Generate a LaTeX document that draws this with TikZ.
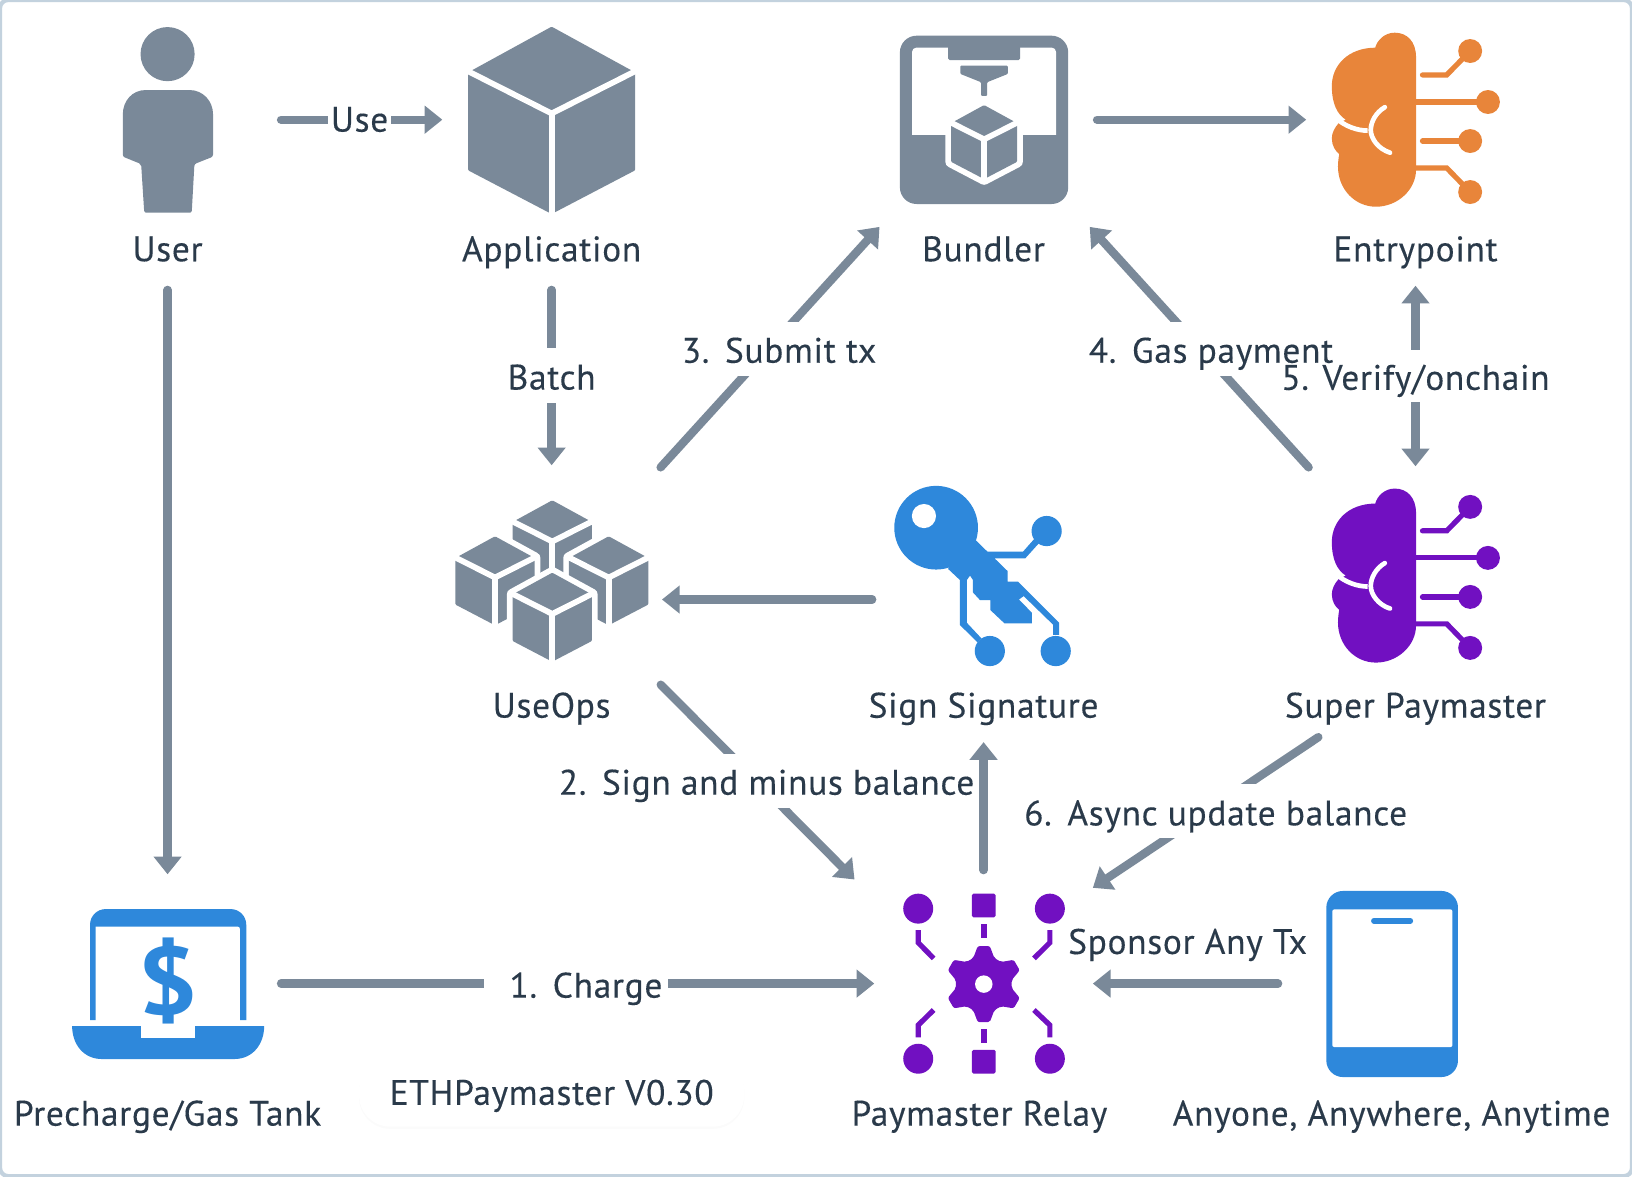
\documentclass[tikz,border=0pt]{standalone}
\usepackage{fontspec}
\setmainfont{PT Sans}
\newfontfamily\labfont{PT Sans}[LetterSpace=2,FakeBold=0.25]
\usetikzlibrary{arrows,arrows.meta,positioning,shadows}
\definecolor{iconclr}{HTML}{7A8999}
\definecolor{textclr}{HTML}{2A3A4A}
\definecolor{blueclr}{HTML}{2E88DB}
\definecolor{orangeclr}{HTML}{E8853A}
\definecolor{purpleclr}{HTML}{7110C1}
\definecolor{frameclr}{HTML}{C3D2DE}
\newcommand{\numgap}{\hspace{15pt}}
\tikzset{
	iconbox/.style={minimum width=210pt,minimum height=210pt,inner sep=0pt,outer sep=0pt},
	lab/.style={text=textclr,font=\fontsize{34}{36}\labfont,inner sep=0pt,outer sep=0pt,minimum height=70pt,text height=28pt,text depth=5pt},
	edgelab/.style={lab,fill=white,minimum height=52pt,inner xsep=3pt,text height=30pt,text depth=3pt},
	gapbox/.style={fill=white,minimum width=20pt,minimum height=50pt,inner sep=0pt},
	flow/.style={draw=iconclr,line width=8pt,line cap=round,->,shorten <=4pt},
	pics/cubepic/.style={code={
		\draw[white,line width=11pt,line join=round] (0,-90) -- (80.3,-46) -- (80.3,48) -- (0,90) -- (-80.3,48) -- (-80.3,-46) -- cycle;
		\fill[iconclr,rounded corners=1pt] (0,-90) -- (80.3,-46) -- (80.3,48) -- (0,90) -- (-80.3,48) -- (-80.3,-46) -- cycle;
		\draw[white,line width=5.5pt] (-84,-49) -- (0,-6.6) -- (84,-49); \draw[white,line width=5.5pt] (0,-6.6) -- (0,96);
	}},
	pics/brainpic/.style={code={
		\fill[#1] (0.5,-60) .. controls (0.5,-75) and (-8,-83.6) .. (-20,-83.6) .. controls (-30,-83.6) and (-37,-76) .. (-38.7,-69.2) .. controls (-65,-69) and (-80.4,-52) .. (-80.4,-32.4) .. controls (-80.4,-15) and (-75,-5) .. (-67,0) -- (-74,3.5) .. controls (-78,8) and (-80.4,13) .. (-80.4,18) .. controls (-80.4,25) and (-77,30) .. (-73.3,33) .. controls (-74,37) and (-74.5,41) .. (-74.5,45) .. controls (-74.5,67) and (-58,83.6) .. (-38,83.6) .. controls (-17,83.6) and (0.5,67) .. (0.5,48) -- cycle;
		\draw[white,line width=4.5pt] (-78,-3) .. controls (-68,7) and (-55,10.5) .. (-46,10.5);
		\draw[white,line width=4.5pt,line cap=round] (-29.5,-12) .. controls (-38,-7) and (-43,2) .. (-43,10) .. controls (-43,18) and (-36,28) .. (-24.5,31.7);
		\draw[#1,line width=5pt,line cap=round] (6.7,-43) -- (30,-43) -- (52.5,-66);
		\draw[#1,line width=5pt] (0,-17) -- (69.6,-17);
		\draw[#1,line width=5pt,line cap=round] (6.7,20.5) -- (52.5,20.5);
		\draw[#1,line width=5pt] (0,46.4) -- (30,46.4) -- (52.5,69.5);
		\fill[#1] (52.5,-66) circle (11.5); \fill[#1] (69.6,-17) circle (11.5); \fill[#1] (52.5,20.5) circle (11.5); \fill[#1] (52.5,69.5) circle (11.5);
	}}
}
\begin{document}
\begin{tikzpicture}[x=1pt,y=-1pt,>={Triangle[length=17pt,width=26pt]}]
	\useasboundingbox (0,0) rectangle (1568,1130);
	\draw[frameclr,line width=4pt,rounded corners=8pt,fill=white] (0,0) rectangle (1568,1130);

	\node[iconbox] (user) at (161,115) {};
	\node[iconbox] (app) at (530,115) {};
	\node[iconbox] (bundler) at (945,115) {};
	\node[iconbox] (entry) at (1360,115) {};
	\node[iconbox,minimum width=204pt,minimum height=203pt] (useops) at (530,553.5) {};
	\node[iconbox,minimum width=206pt] (sign) at (945,576) {};
	\node[iconbox] (super) at (1360,553) {};
	\node[iconbox] (tank) at (161,945) {};
	\node[iconbox] (relay) at (945,945) {};
	\node[iconbox] (phone) at (1337,945) {};

	\node[lab] (userlab) at (161,239.5) {User};
	\node[lab] (applab) at (530,239.5) {Application};
	\node[lab] (bundlerlab) at (945,239.5) {Bundler};
	\node[lab] (entrylab) at (1360,239.5) {Entrypoint};
	\node[lab] (useopslab) at (530,678) {UseOps};
	\node[lab] (signlab) at (945,678) {Sign Signature};
	\node[lab] (superlab) at (1360,678) {Super Paymaster};
	\node[lab] (tanklab) at (161,1070) {Precharge/Gas Tank};
	\node[lab] (relaylab) at (941,1070) {Paymaster Relay};
	\node[lab] (phonelab) at (1337,1070) {Anyone, Anywhere, Anytime};

	% user and application
	\fill[iconclr] (161,52) circle (26);
	\fill[iconclr,rounded corners=2pt] (161,86.5) -- (180,86.5) .. controls (195,86.5) and (204.7,97) .. (204.7,112) -- (204.7,150.5) -- (186.8,157.6) -- (184.2,204.4) -- (138.6,204.4) -- (135.6,157.6) -- (118,150.5) -- (118,112) .. controls (118,97) and (127,86.5) .. (142,86.5) -- cycle;
	\pic at (530,115.6) {cubepic};

	% bundler
	\fill[iconclr,rounded corners=16pt] (864.6,34.3) rectangle (1026.3,196);
	\fill[white,rounded corners=4pt] (876.3,45.8) -- (1014.6,45.8) -- (1014.6,80) [sharp corners] -- (1014.6,129.7) -- (876.3,129.7) -- (876.3,80) [rounded corners=4pt] -- cycle;
	\fill[iconclr,rounded corners=1.5pt] (910.9,40) rectangle (980,57.7);
	\fill[iconclr,rounded corners=1pt] (922.6,63.1) -- (968.4,63.1) -- (968.4,71) -- (948.4,79) -- (948.4,92.2) -- (942.6,92.2) -- (942.6,79) -- (922.6,71) -- cycle;
	\pic[scale=.395] at (945.5,136.5) {cubepic};

	% brains
	\pic at (1360,115) {brainpic=orangeclr};
	\pic at (1360,553) {brainpic=purpleclr};

	% useops
	\pic[scale=.475] at (530.6,523.4) {cubepic};
	\pic[scale=.475] at (475.6,558) {cubepic};
	\pic[scale=.475] at (584.8,558) {cubepic};
	\pic[scale=.475] at (530.6,593) {cubepic};

	% key
	\fill[blueclr] (899.4,507) circle (40.2);
	\fill[white] (887.7,495.8) circle (11.6);
	\fill[blueclr] (911,546.7) -- (925,505) -- (937.3,518.9) -- (948.7,530) -- (982.9,530) -- (994.4,517) -- (999,521) -- (985,536.5) -- (955.6,536.5) -- (968.1,548.7) -- (968.1,558.9) -- (978.1,558.9) -- (1017.5,598.3) -- (1017.5,610) -- (1011.9,610) -- (1011.9,600.3) -- (983.5,572.7) -- (979,576) -- (991.4,588.7) -- (991.4,599) -- (965.2,599) -- (951.5,586.1) -- (951.5,576.5) -- (941.5,576.5) -- (934.8,569.2) -- (934.8,557.3) -- (932,553) -- (928.9,557.3) -- (928.9,598.3) -- (943,613.4) -- (939,617) -- (922.3,600.5) -- (922.3,557.3) -- cycle;
	\fill[blueclr] (951,625.5) circle (14.5); \fill[blueclr] (1014.3,625.5) circle (14.5); \fill[blueclr] (1005.6,510.2) circle (14.5);

	% laptop
	\fill[blueclr] (86.5,980) [rounded corners=15pt] -- (86.5,873.4) -- (236.6,873.4) [sharp corners] -- (236.6,980) -- cycle;
	\fill[white,rounded corners=2pt] (91.8,890.3) -- (230.4,890.3) [sharp corners] -- (230.4,985) -- (91.8,985) -- cycle;
	\fill[blueclr] (69.3,985.8) -- (135.3,985.8) -- (135.3,997.3) -- (187.4,997.3) -- (187.4,985.8) -- (253.8,985.8) .. controls (253.8,1003) and (243,1017.5) .. (225,1017.5) -- (98,1017.5) .. controls (80,1017.5) and (69.3,1003) .. (69.3,985.8) -- cycle;
	\node[text=blueclr,font=\fontsize{92}{92}\selectfont\bfseries,inner sep=0pt,xscale=1.12] (dollar) at (161.6,942.5) {\$};

	% relay
	\foreach \cx/\cy in {882.2/873,1008.7/873,882.2/1017.2,1008.7/1017.2} {\fill[purpleclr] (\cx,\cy) circle (14.4);}
	\fill[purpleclr,rounded corners=1.5pt] (933.8,858.6) rectangle (956.6,881.4);
	\fill[purpleclr,rounded corners=1.5pt] (933.8,1008.6) rectangle (956.6,1031.4);
	\draw[purpleclr,line width=5.3pt] (945.2,887.8) -- (945.2,901.6); \draw[purpleclr,line width=5.3pt] (945.2,988.7) -- (945.2,1002.5);
	\draw[purpleclr,line width=5pt] (882.2,893.6) -- (882.2,905.7) -- (897,920.8); \draw[purpleclr,line width=5pt] (1008.7,893.6) -- (1008.7,905.7) -- (993.4,920.8);
	\draw[purpleclr,line width=5pt] (882.2,996.7) -- (882.2,984.9) -- (897,970.4); \draw[purpleclr,line width=5pt] (1008.7,996.7) -- (1008.7,984.9) -- (993.4,970.4);
	\begin{scope}[shift={(945.2,945.5)}]
		\fill[purpleclr,rounded corners=2pt] (81:37) \foreach \a in {90,150,210,270,330,390} {-- (\a-9:37) -- (\a+9:37) -- (\a+22:27) -- (\a+38:27)} -- cycle;
		\fill[white] (0,0) circle (8.4);
	\end{scope}

	% phone
	\fill[blueclr,rounded corners=16pt] (1274.3,856) rectangle (1400.8,1034.8);
	\fill[white,rounded corners=2pt] (1280,873.7) rectangle (1395.5,1006);
	\draw[blueclr,line width=5.4pt,line cap=round] (1320,884.6) -- (1355,884.6);

	% connectors
	\draw[flow] (user) -- node[edgelab,yshift=2pt] {Use} (app);
	\draw[flow] (userlab) -- (tank);
	\draw[flow] (applab) -- node[edgelab] {Batch} ([yshift=5pt]useops.north);
	\draw[flow] (bundler) -- (entry);
	\draw[flow] (useops.north east) -- node[edgelab,xshift=10pt] {3.\numgap Submit tx} ([xshift=5pt,yshift=2pt]bundler.south west);
	\draw[flow] ([xshift=5pt,yshift=-4pt]super.north west) -- node[edgelab,xshift=10pt] {4.\numgap Gas payment} ([xshift=-3pt,yshift=2pt]bundler.south east);
	\draw[flow,<->,shorten <=0pt] (entrylab) -- node[gapbox] {} (super);
	\node[lab] (verify) at (1360,363) {5. Verify/onchain};
	\draw[flow,shorten >=4pt] (sign.west) -- (sign.west -| useops.east);
	\draw[flow] (useops.south east) -- node[edgelab,xshift=10pt] {2.\numgap Sign and minus balance} ([xshift=-19pt,yshift=-5pt]relay.north west);
	\draw[flow] (relay) -- (signlab);
	\draw[flow] ([xshift=-90pt,yshift=7pt]superlab.south) -- node[edgelab,xshift=8pt] {6.\numgap Async update balance} ([yshift=-13pt]relay.north east);
	\draw[flow] (tank) -- node[edgelab,inner xsep=5pt] {\hspace*{20pt}1.\numgap Charge} (relay);
	\draw[flow] (phone) -- node[lab,yshift=40pt] (sponsor) {Sponsor Any Tx} (relay);

	\node[lab,fill=white,rounded corners=30pt,minimum width=370pt,minimum height=65pt,drop shadow={opacity=.03,shadow xshift=0pt,shadow yshift=-2pt}] (version) at (530,1050) {ETHPaymaster V0.30};
\end{tikzpicture}
\end{document}
